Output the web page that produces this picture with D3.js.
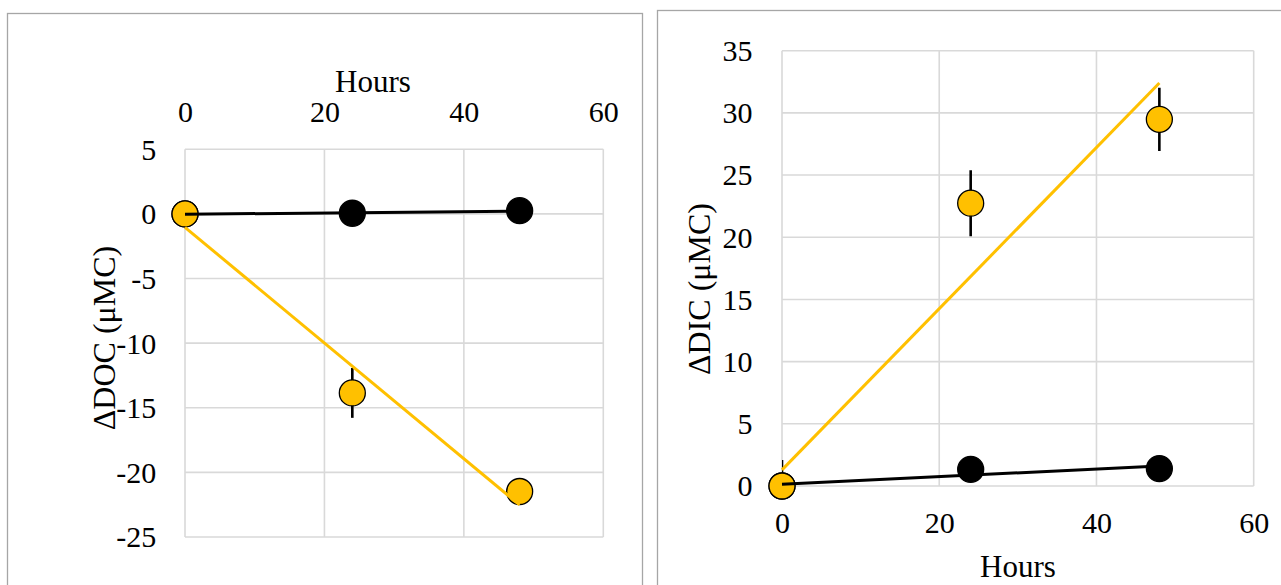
<!DOCTYPE html>
<html>
<head>
<meta charset="utf-8">
<script src="https://cdn.jsdelivr.net/npm/d3@7"></script>
</head>
<body style="margin:0">
<svg id="chart" width="1281" height="585"></svg>
<script>
// ---------- data ----------
const hours = [0, 24, 48];
const xTicks = [0, 20, 40, 60];
const docTicks = [-25, -20, -15, -10, -5, 0, 5];
const dicTicks = [0, 5, 10, 15, 20, 25, 30, 35];

const docBlack = [0, 0.05, 0.25];
const docBlackErr = [0, 0, 0];
const docYellow = [0, -13.85, -21.48];
const docYellowErr = [0, 1.93, 0];
const docBlackTrend = [[0, -0.03], [48, 0.22]];
const docYellowTrend = [[0, -1.04], [48, -22.52]];

const dicBlack = [0, 1.34, 1.4];
const dicBlackErr = [0, 0, 0];
const dicYellow = [0, 22.74, 29.48];
const dicYellowErr = [2.1, 2.65, 2.55];
const dicBlackTrend = [[0, 0.15], [48, 1.6]];
const dicYellowTrend = [[0, 1.3], [48, 32.4]];

const yellow = "#FFC000";
const gridColor = "#d9d9d9";
const frameColor = "#a6a6a6";
const FONT = '"Liberation Serif"';

const svg = d3.select("#chart");
svg.append("rect").attr("width", 1281).attr("height", 585).attr("fill", "#fff");

// outer frames
svg.append("rect").attr("x", 7.5).attr("y", 13.5).attr("width", 635).attr("height", 600)
  .attr("fill", "none").attr("stroke", frameColor).attr("stroke-width", 1.3);
svg.append("rect").attr("x", 657.5).attr("y", 10.5).attr("width", 640).attr("height", 600)
  .attr("fill", "none").attr("stroke", frameColor).attr("stroke-width", 1.3);

function styleText(sel, size) {
  sel.style("font-family", FONT).attr("font-size", size).attr("fill", "#000");
}

function drawPanel(cfg) {
  const g = svg.append("g");
  const x = d3.scaleLinear().domain([0, 60]).range(cfg.xRange);
  const y = d3.scaleLinear().domain(cfg.yDomain).range(cfg.yRange);
  const clipId = cfg.id + "-clip";
  svg.append("defs").append("clipPath").attr("id", clipId)
    .append("rect")
    .attr("x", cfg.xRange[0]).attr("y", cfg.yRange[1])
    .attr("width", cfg.xRange[1] - cfg.xRange[0])
    .attr("height", cfg.yRange[0] - cfg.yRange[1]);

  // gridlines
  g.selectAll(".vg").data(xTicks).join("line")
    .attr("x1", d => x(d)).attr("x2", d => x(d))
    .attr("y1", cfg.yRange[0]).attr("y2", cfg.yRange[1])
    .attr("stroke", gridColor).attr("stroke-width", 1.6);
  g.selectAll(".hg").data(cfg.yTicks).join("line")
    .attr("x1", cfg.xRange[0]).attr("x2", cfg.xRange[1])
    .attr("y1", d => y(d)).attr("y2", d => y(d))
    .attr("stroke", gridColor).attr("stroke-width", 1.6);

  // axes (labels only)
  const fmt = d => String(d);
  const yAxis = d3.axisLeft(y).tickValues(cfg.yTicks).tickSize(0).tickPadding(cfg.yPad).tickFormat(fmt);
  const ya = g.append("g").attr("transform", `translate(${cfg.xRange[0]},0)`).call(yAxis);
  ya.attr("font-family", null).attr("font-size", null);
  ya.select(".domain").remove();
  styleText(ya.selectAll("text"), 30);
  ya.selectAll("text").attr("dy", "0.33em");

  const xAxis = (cfg.xTop ? d3.axisTop(x) : d3.axisBottom(x))
    .tickValues(xTicks).tickSize(0).tickPadding(cfg.xPad).tickFormat(fmt);
  const xa = g.append("g").attr("transform", `translate(0,${cfg.xAxisY})`).call(xAxis);
  xa.attr("font-family", null).attr("font-size", null);
  xa.select(".domain").remove();
  styleText(xa.selectAll("text"), 30);
  xa.selectAll("text").attr("dy", "0em");

  // titles
  styleText(g.append("text").attr("x", cfg.xTitle[0]).attr("y", cfg.xTitle[1])
    .attr("text-anchor", "middle").text("Hours"), 31);
  styleText(g.append("text")
    .attr("transform", `translate(${cfg.yTitle[0]},${cfg.yTitle[1]}) rotate(-90)`)
    .attr("text-anchor", "middle").text(cfg.yLabel), 32);

  const series = [
    { vals: cfg.black, err: cfg.blackErr, fill: "#000", stroke: "#000" },
    { vals: cfg.yel, err: cfg.yelErr, fill: yellow, stroke: "#000" }
  ];
  // error bars (clipped to plot area)
  const eb = g.append("g").attr("clip-path", `url(#${clipId})`);
  series.forEach(s => {
    eb.selectAll(null).data(hours.map((h, i) => ({ h, v: s.vals[i], e: s.err[i] })).filter(d => d.e > 0))
      .join("line")
      .attr("x1", d => x(d.h)).attr("x2", d => x(d.h))
      .attr("y1", d => y(d.v - d.e)).attr("y2", d => y(d.v + d.e))
      .attr("stroke", "#000").attr("stroke-width", 2.6);
  });
  // markers
  series.forEach(s => {
    g.selectAll(null).data(hours.map((h, i) => ({ h, v: s.vals[i] })))
      .join("circle")
      .attr("cx", d => x(d.h)).attr("cy", d => y(d.v)).attr("r", 13)
      .attr("fill", s.fill).attr("stroke", s.stroke).attr("stroke-width", 1.3);
  });
  // trendlines
  const line = d3.line().x(d => x(d[0])).y(d => y(d[1]));
  g.append("path").attr("d", line(cfg.blackTrend)).attr("fill", "none")
    .attr("stroke", "#000").attr("stroke-width", 3);
  g.append("path").attr("d", line(cfg.yelTrend)).attr("fill", "none")
    .attr("stroke", yellow).attr("stroke-width", 3);
}

drawPanel({
  id: "doc",
  xRange: [185, 603.3], yDomain: [-25, 5], yRange: [537, 149.3], yTicks: docTicks,
  xTop: true, xAxisY: 149.3, xPad: 27.6, yPad: 28.7,
  xTitle: [373, 91.5], yTitle: [115, 338], yLabel: "ΔDOC (μMC)",
  black: docBlack, blackErr: docBlackErr, yel: docYellow, yelErr: docYellowErr,
  blackTrend: docBlackTrend, yelTrend: docYellowTrend
});

drawPanel({
  id: "dic",
  xRange: [782, 1253.7], yDomain: [0, 35], yRange: [486, 50.7], yTicks: dicTicks,
  xTop: false, xAxisY: 486, xPad: 47.3, yPad: 29.6,
  xTitle: [1018, 577], yTitle: [710, 289], yLabel: "ΔDIC (μMC)",
  black: dicBlack, blackErr: dicBlackErr, yel: dicYellow, yelErr: dicYellowErr,
  blackTrend: dicBlackTrend, yelTrend: dicYellowTrend
});
</script>
</body>
</html>
